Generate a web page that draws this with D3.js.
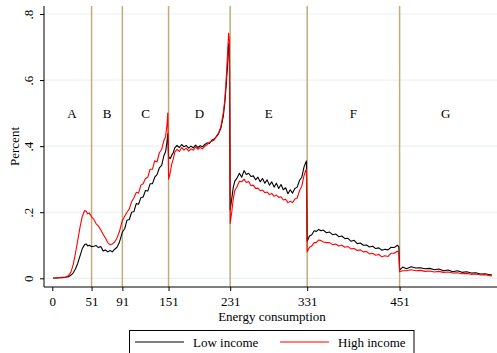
<!DOCTYPE html>
<html>
<head>
<meta charset="utf-8">
<script src="https://cdn.jsdelivr.net/npm/d3@7"></script>
<style>
  body { margin: 0; background: #fff; }
  text { font-family: "Liberation Serif", "DejaVu Serif", serif; fill: #000; }
</style>
</head>
<body>
<script>
// data
const consumption = [
  1, 5, 9, 13, 17, 21, 24, 27, 30, 33, 36, 39, 42, 44, 46, 48, 51,
  54, 57, 60, 63, 66, 69, 72, 75, 78, 81, 84, 87, 89, 91,
  94, 97, 100, 103, 106, 109, 112, 115, 118, 121, 124, 127, 130, 133, 136, 139, 142, 145, 147, 149, 150,
  151, 153, 155, 157, 159, 162, 165, 168, 171, 174, 177, 180, 183, 186, 189, 192, 195, 198, 201, 204, 207, 210, 213, 216, 219, 222, 224, 226, 228, 229, 230,
  231, 233, 235, 237, 240, 243, 246, 249, 252, 255, 258, 261, 264, 267, 270, 273, 276, 279, 282, 285, 288, 291, 294, 297, 300, 303, 306, 309, 312, 315, 318, 321, 324, 327, 329, 330,
  331, 334, 337, 340, 343, 346, 349, 352, 356, 360, 364, 368, 372, 376, 380, 384, 388, 392, 396, 400, 404, 408, 412, 416, 420, 424, 428, 432, 436, 440, 444, 448, 450,
  451, 455, 460, 466, 472, 478, 484, 490, 496, 502, 508, 514, 520, 526, 532, 538, 544, 550, 556, 562, 568, 571
];

const lowIncome = [
  .001, .001, .002, .002, .003, .005, .009, .016, .028, .045, .068, .090, .102, .104, .098, .100, .096,
  .097, .099, .093, .096, .083, .086, .080, .084, .080, .088, .094, .108, .124, .140,
  .150, .176, .178, .200, .202, .226, .224, .244, .246, .266, .264, .286, .286, .306, .314, .334, .342, .372, .382, .414, .438,
  .368, .362, .372, .380, .395, .402, .396, .405, .398, .402, .394, .400, .395, .403, .396, .401, .398, .405, .410, .408, .418, .422, .428, .438, .455, .490, .530, .590, .660, .710, .690,
  .207, .240, .275, .294, .304, .318, .306, .326, .314, .318, .308, .310, .298, .306, .292, .302, .288, .298, .282, .292, .276, .288, .272, .284, .268, .274, .256, .268, .258, .272, .276, .296, .306, .338, .350, .355,
  .112, .128, .132, .144, .142, .148, .144, .146, .138, .140, .132, .134, .126, .128, .120, .121, .112, .115, .105, .107, .100, .101, .095, .097, .090, .092, .085, .088, .086, .094, .093, .100, .096,
  .025, .034, .029, .035, .031, .032, .029, .030, .026, .028, .023, .025, .020, .023, .018, .020, .016, .017, .013, .014, .011, .010
];

const highIncome = [
  .001, .001, .002, .003, .004, .008, .018, .040, .075, .115, .155, .188, .205, .203, .195, .198, .186,
  .178, .165, .158, .146, .133, .122, .108, .102, .104, .110, .122, .140, .158, .175,
  .188, .200, .210, .232, .244, .260, .258, .282, .286, .302, .306, .330, .330, .356, .352, .380, .390, .418, .428, .466, .500,
  .300, .318, .345, .360, .382, .390, .384, .396, .388, .394, .385, .392, .388, .398, .390, .396, .392, .400, .404, .412, .415, .418, .430, .440, .460, .500, .540, .610, .700, .742, .720,
  .166, .200, .240, .266, .278, .294, .292, .300, .290, .293, .280, .282, .272, .273, .265, .267, .259, .261, .253, .257, .248, .252, .245, .247, .237, .239, .229, .233, .229, .240, .243, .265, .279, .312, .326, .330,
  .080, .094, .098, .108, .108, .116, .114, .110, .108, .108, .102, .104, .098, .100, .094, .096, .089, .090, .084, .086, .080, .081, .074, .076, .070, .072, .065, .068, .066, .076, .076, .082, .078,
  .020, .023, .023, .026, .023, .024, .021, .022, .019, .021, .018, .019, .016, .017, .014, .015, .012, .013, .010, .011, .008, .007
];

const boundaries = [51, 91, 151, 231, 331, 451];
const xTicks = [0, 51, 91, 151, 231, 331, 451];
const yTicks = [0, 0.2, 0.4, 0.6, 0.8];
const yTickLabels = ["0", ".2", ".4", ".6", ".8"];
const zoneLabels = ["A", "B", "C", "D", "E", "F", "G"];
const zoneCenters = [25.5, 71, 121, 191, 281, 391, 511];

const series = [
  { name: "Low income", values: lowIncome, color: "#000000" },
  { name: "High income", values: highIncome, color: "#ff0000" }
];

// layout
const width = 497;
const height = 353;
const plotLeft = 44;
const plotRight = 497;
const plotTop = 6;
const plotBottom = 287;

const x = d3.scaleLinear().domain([0, 571]).range([52.3, 492]);
const y = d3.scaleLinear().domain([0, 0.8]).range([278.3, 14]);

const svg = d3.select("body").append("svg")
  .attr("width", width)
  .attr("height", height);

// grid
svg.append("g")
  .selectAll("line")
  .data(yTicks)
  .join("line")
  .attr("x1", plotLeft)
  .attr("x2", plotRight)
  .attr("y1", (d) => y(d))
  .attr("y2", (d) => y(d))
  .attr("stroke", "#eaf1f2")
  .attr("stroke-width", 1.2);

// zone boundaries
svg.append("g")
  .selectAll("line")
  .data(boundaries)
  .join("line")
  .attr("x1", (d) => x(d))
  .attr("x2", (d) => x(d))
  .attr("y1", plotTop)
  .attr("y2", plotBottom)
  .attr("stroke", "#bfad7c")
  .attr("stroke-width", 1.5);

// zone letters
svg.append("g")
  .selectAll("text")
  .data(zoneLabels)
  .join("text")
  .attr("x", (d, i) => x(zoneCenters[i]))
  .attr("y", y(0.5))
  .attr("dy", "0.35em")
  .attr("text-anchor", "middle")
  .style("font-size", "13px")
  .text((d) => d);

// lines
const line = d3.line()
  .x((d, i) => x(consumption[i]))
  .y((d) => y(d));

svg.append("g")
  .selectAll("path")
  .data(series)
  .join("path")
  .attr("d", (d) => line(d.values))
  .attr("fill", "none")
  .attr("stroke", (d) => d.color)
  .attr("stroke-width", 1.1)
  .attr("stroke-linejoin", "round");

// y axis
const yAxis = svg.append("g")
  .attr("transform", `translate(${plotLeft},0)`)
  .call(d3.axisLeft(y).tickValues(yTicks).tickSize(4).tickFormat((d, i) => yTickLabels[i]));
yAxis.select(".domain").attr("d", `M0,${plotTop}V${plotBottom}`).attr("stroke", "#000");
yAxis.selectAll(".tick text")
  .attr("x", null).attr("dy", null)
  .attr("transform", "translate(-11,0) rotate(-90)")
  .attr("text-anchor", "middle")
  .style("font-size", "13px")
  .style("font-family", "Liberation Serif");

// x axis
const xAxis = svg.append("g")
  .attr("transform", `translate(0,${plotBottom})`)
  .call(d3.axisBottom(x).tickValues(xTicks).tickSize(4).tickFormat(d3.format("d")));
xAxis.select(".domain").attr("d", `M${plotLeft},0H${plotRight}`).attr("stroke", "#000");
xAxis.selectAll(".tick text")
  .attr("y", 18.5).attr("dy", null)
  .style("font-size", "13px")
  .style("font-family", "Liberation Serif");

// axis titles
svg.append("text")
  .attr("x", 272)
  .attr("y", 320.5)
  .attr("text-anchor", "middle")
  .style("font-size", "13px")
  .text("Energy consumption");

svg.append("text")
  .attr("transform", `translate(19,${(plotTop + plotBottom) / 2}) rotate(-90)`)
  .attr("text-anchor", "middle")
  .style("font-size", "13px")
  .text("Percent");

// legend
const legend = svg.append("g");
legend.append("rect")
  .attr("x", 129.5)
  .attr("y", 330.5)
  .attr("width", 284.5)
  .attr("height", 30)
  .attr("fill", "#fff")
  .attr("stroke", "#000")
  .attr("stroke-width", 1);

const legendX = [135, 280];
const legendItems = legend.selectAll(".legend-item")
  .data(series)
  .join("g")
  .attr("class", "legend-item")
  .attr("transform", (d, i) => `translate(${legendX[i]},342)`);
legendItems.append("line")
  .attr("x1", 0)
  .attr("x2", 49)
  .attr("stroke", (d) => d.color)
  .attr("stroke-width", 1.2);
legendItems.append("text")
  .attr("x", 58)
  .attr("y", 5)
  .style("font-size", "13px")
  .text((d) => d.name);
</script>
</body>
</html>
